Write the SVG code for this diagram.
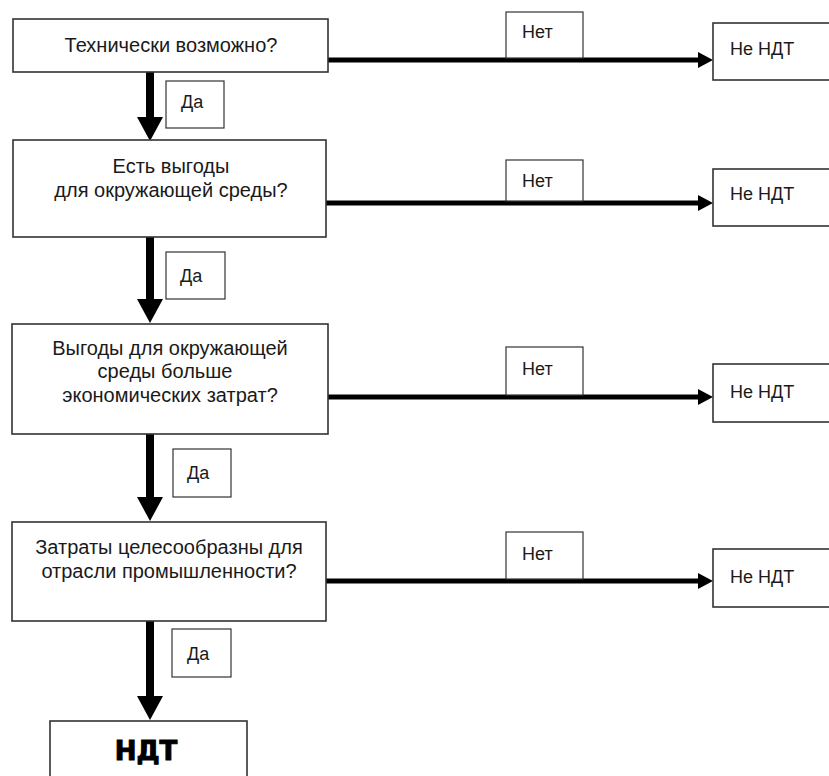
<svg xmlns="http://www.w3.org/2000/svg" width="829" height="776" viewBox="0 0 829 776">
<defs>
<style>
.box{fill:#fff;stroke:#333;stroke-width:1.6}
.lbl{fill:#fff;stroke:#333;stroke-width:1.2}
.t{font-family:"Liberation Sans",Arial,sans-serif;font-size:18px;fill:#1a1a1a}
.m{font-size:20px}
.c{text-anchor:middle}
.h{stroke:#000;stroke-width:5;fill:none}
.v{stroke:#000;stroke-width:8;fill:none}
.big{font-family:"DejaVu Sans",sans-serif;font-weight:bold;font-size:26px;fill:#000;stroke:#000;stroke-width:1;text-anchor:middle}
</style>
</defs>
<rect width="829" height="776" fill="#fff"/>
<g id="connectors">
<line class="v" x1="150" y1="72" x2="150" y2="118"/>
<polygon points="137,117 163,117 150,141"/>
<line class="v" x1="150" y1="237" x2="150" y2="300"/>
<polygon points="137,299 163,299 150,323"/>
<line class="v" x1="150" y1="434" x2="150" y2="498"/>
<polygon points="137,497 163,497 150,521"/>
<line class="v" x1="150" y1="621" x2="150" y2="697"/>
<polygon points="137,696 163,696 150,720"/>
<line class="h" x1="328" y1="60" x2="700" y2="60"/>
<polygon points="698,52 713,60 698,68"/>
<line class="h" x1="326" y1="203" x2="700" y2="203"/>
<polygon points="698,195 713,203 698,211"/>
<line class="h" x1="328" y1="397" x2="700" y2="397"/>
<polygon points="698,389 713,397 698,405"/>
<line class="h" x1="326" y1="581" x2="700" y2="581"/>
<polygon points="698,573 713,581 698,589"/>
</g>
<g id="q1"><rect class="box" x="13" y="19" width="315" height="53"/><text class="t m c" x="171" y="52">Технически возможно?</text></g>
<g id="q2"><rect class="box" x="13" y="140" width="313" height="97"/><text class="t m c" x="171" y="173">Есть выгоды</text><text class="t m c" x="171" y="197">для окружающей среды?</text></g>
<g id="q3"><rect class="box" x="12" y="324" width="316" height="110"/><text class="t m c" x="170" y="355">Выгоды для окружающей</text><text class="t m c" x="165" y="378">среды больше</text><text class="t m c" x="170" y="402">экономических затрат?</text></g>
<g id="q4"><rect class="box" x="12" y="522" width="314" height="99"/><text class="t m c" x="169" y="554">Затраты целесообразны для</text><text class="t m c" x="169" y="578">отрасли промышленности?</text></g>
<g id="ndt"><rect class="box" x="50" y="721" width="197" height="70"/><text class="big" x="146" y="760">НДТ</text></g>
<g id="no1"><rect class="lbl" x="506" y="12" width="77" height="46"/><text class="t" x="522" y="38">Нет</text></g>
<g id="no2"><rect class="lbl" x="506" y="160" width="77" height="41"/><text class="t" x="522" y="187">Нет</text></g>
<g id="no3"><rect class="lbl" x="506" y="347" width="77" height="48"/><text class="t" x="522" y="375">Нет</text></g>
<g id="no4"><rect class="lbl" x="506" y="532" width="77" height="47"/><text class="t" x="522" y="560">Нет</text></g>
<g id="yes1"><rect class="lbl" x="166" y="81" width="58" height="47"/><text class="t" x="181" y="108">Да</text></g>
<g id="yes2"><rect class="lbl" x="166" y="252" width="59" height="47"/><text class="t" x="180" y="282">Да</text></g>
<g id="yes3"><rect class="lbl" x="173" y="449" width="58" height="48"/><text class="t" x="187" y="479">Да</text></g>
<g id="yes4"><rect class="lbl" x="172" y="629" width="59" height="48"/><text class="t" x="187" y="660">Да</text></g>
<g id="notbat1"><rect class="box" x="713" y="23" width="130" height="57"/><text class="t" x="730" y="55">Не НДТ</text></g>
<g id="notbat2"><rect class="box" x="713" y="169" width="130" height="57"/><text class="t" x="730" y="200">Не НДТ</text></g>
<g id="notbat3"><rect class="box" x="713" y="364" width="130" height="58"/><text class="t" x="730" y="398">Не НДТ</text></g>
<g id="notbat4"><rect class="box" x="713" y="549" width="130" height="58"/><text class="t" x="730" y="583">Не НДТ</text></g>
</svg>
